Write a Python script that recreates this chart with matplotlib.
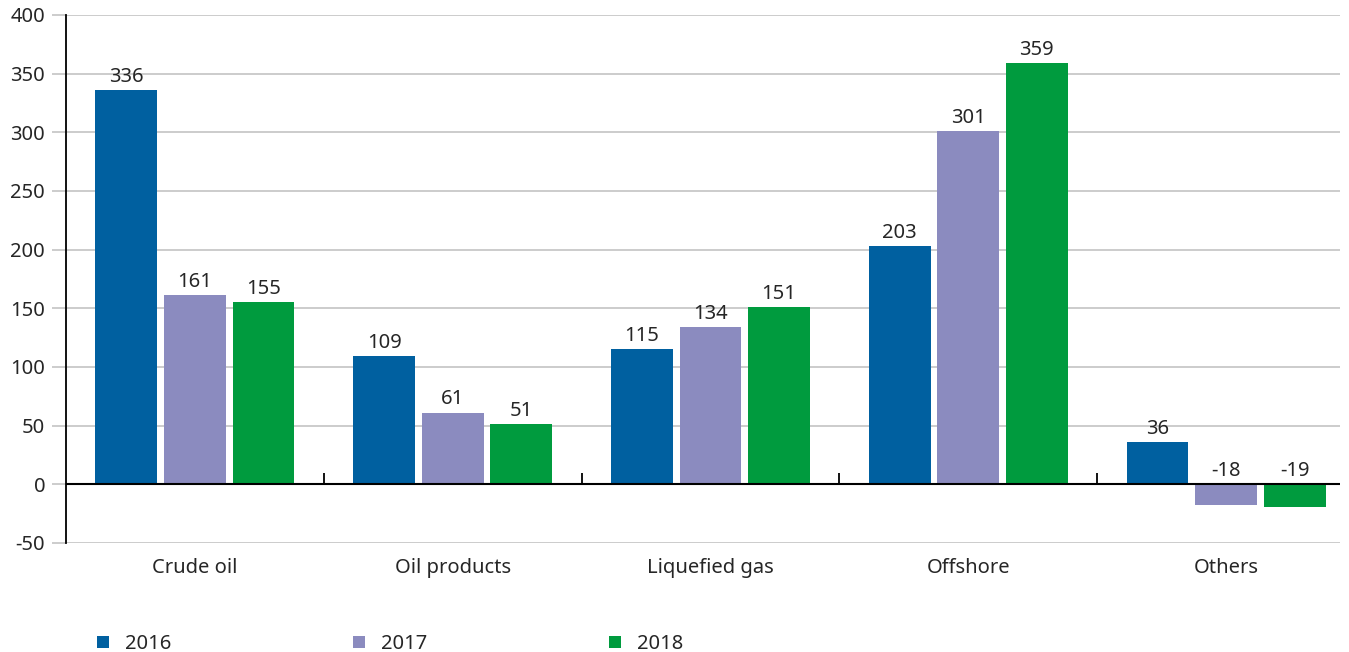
import matplotlib
matplotlib.use("Agg")
import matplotlib.pyplot as plt
from matplotlib.patches import Patch
import numpy as np

categories = ["Crude oil", "Oil products", "Liquefied gas", "Offshore", "Others"]
years = ["2016", "2017", "2018"]
v2016 = [336, 109, 115, 203, 36]
v2017 = [161, 61, 134, 301, -18]
v2018 = [155, 51, 151, 359, -19]
yticks = [-50, 0, 50, 100, 150, 200, 250, 300, 350, 400]

colors = ["#0060a0", "#8b8bbf", "#009b3e"]
txt = "#262626"

plt.rcParams['font.family'] = ['Noto Sans', 'DejaVu Sans']
fs = 14.5

fig = plt.figure(figsize=(13.49, 6.52), dpi=100)
W, H = 1349, 652
ax = fig.add_axes([66 / W, (H - 543) / H, (1340 - 66) / W, (543 - 15) / H])

x = np.arange(len(categories))
width = 0.24
offsets = [-0.266, 0.0, 0.266]
series = [v2016, v2017, v2018]

for vals, off, c in zip(series, offsets, colors):
    ax.bar(x + off, vals, width, color=c, zorder=3)
    for xi, v in zip(x, vals):
        ax.text(xi + off, max(v, 0) + 3, str(v), ha="center", va="bottom",
                color=txt, fontsize=fs, zorder=4)

ax.set_xlim(-0.5, 4.442)
ax.set_ylim(-50, 400)
ax.set_yticks(yticks)
ax.set_yticklabels([str(t) for t in yticks], color=txt, fontsize=fs)
ax.yaxis.grid(True, color="#c8c8c8", linewidth=1.3, zorder=0)
ax.tick_params(axis="y", length=10, color="#c8c8c8", width=1.3, pad=5)

ax.set_xticks(x)
ax.set_xticklabels(categories, color=txt, fontsize=fs)
ax.tick_params(axis="x", length=0, pad=11)

ax.axhline(0, color="black", linewidth=1.5, zorder=5)
ax.vlines(x[:-1] + 0.5, 0, 10, color="black", linewidth=1.3, zorder=5)

for s in ["top", "right", "bottom"]:
    ax.spines[s].set_visible(False)
ax.spines["left"].set_color("black")
ax.spines["left"].set_linewidth(1.3)

handles = [Patch(facecolor=c, edgecolor="none") for c in colors]
fig.legend(handles, years, loc="center left", bbox_to_anchor=(79 / W, 1 - 644 / H),
           ncol=3, frameon=False, handlelength=0.6, handleheight=0.6,
           handletextpad=0.8, columnspacing=9.0, fontsize=fs, labelcolor=txt)

fig.savefig("out.png", dpi=100)
